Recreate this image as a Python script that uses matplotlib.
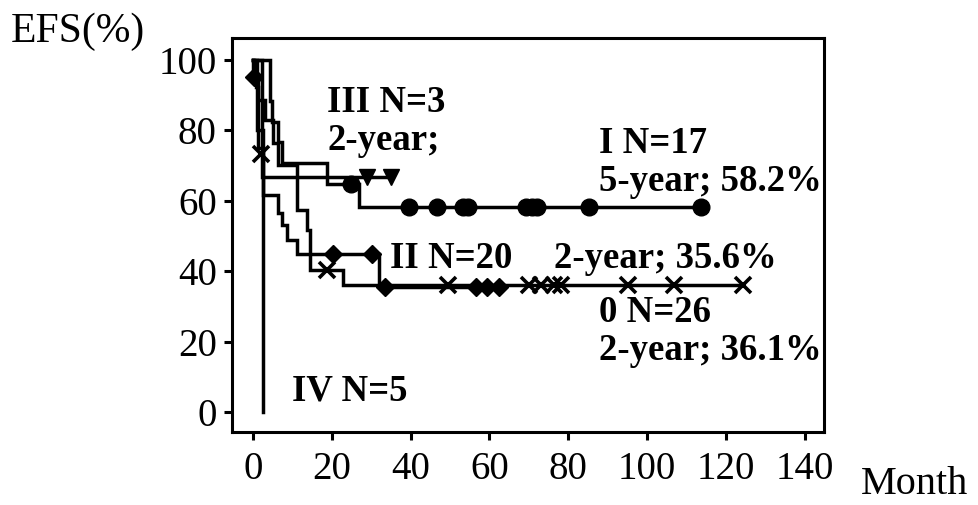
import numpy as np
import matplotlib.pyplot as plt

plt.rcParams['font.family'] = ['Liberation Serif', 'DejaVu Serif']

# step curves: event times (month) and EFS (%) after each step
t_I = [0, 4.4, 4.9, 6.4, 7.4, 18.8, 26.8, 113.6]
s_I = [100, 88.2, 82.4, 76.5, 70.6, 64.7, 58.2, 58.2]
cens_I_t = [24.8, 39.5, 46.8, 53.2, 54.7, 69.2, 70.9, 72.2, 85.2, 113.6]
cens_I_s = [64.7, 58.2, 58.2, 58.2, 58.2, 58.2, 58.2, 58.2, 58.2, 58.2]

t_0 = [0, 0.4, 0.8, 1.2, 3.1, 5.2, 6.4, 11.2, 13.8, 14.6, 22.9, 124.3]
s_0 = [100, 96.2, 92.3, 88.5, 82.8, 76.3, 70.0, 57.3, 51.6, 40.3, 36.1, 36.1]
cens_0_t = [2.0, 18.8, 49.5, 70.0, 73.0, 76.3, 78.3, 95.3, 106.8, 124.3]
cens_0_s = [73.1, 40.3, 36.1, 36.1, 36.1, 36.1, 36.1, 36.1, 36.1, 36.1]

t_II = [0, 0.1, 1.2, 2.6, 6.4, 7.4, 8.7, 11.3, 31.9, 62.4]
s_II = [100, 95, 75, 61.6, 56.4, 53.1, 48.8, 45.0, 35.6, 35.6]
cens_II_t = [0.2, 20.4, 30.3, 33.6, 56.5, 59.5, 62.4]
cens_II_s = [95, 45.0, 45.0, 35.6, 35.6, 35.6, 35.6]

t_III = [0, 2.4, 35.0]
s_III = [100, 66.7, 66.7]
cens_III_t = [29.0, 35.0]
cens_III_s = [66.7, 66.7]

t_IV = [0, 1.0, 2.6, 2.6]
s_IV = [100, 80, 80, 0]

xticks = [0, 20, 40, 60, 80, 100, 120, 140]
yticks = [0, 20, 40, 60, 80, 100]

fig = plt.figure(figsize=(9.79, 5.05), dpi=100)
ax = fig.add_axes([0.237, 0.145, 0.605, 0.779])

lw = 2.5
for t, s in [(t_I, s_I), (t_0, s_0), (t_II, s_II), (t_III, s_III), (t_IV, s_IV)]:
    ax.step(t, s, where='post', color='black', lw=lw, solid_joinstyle='miter')

ax.plot(cens_I_t, cens_I_s, 'o', color='black', ms=12, ls='none')
ax.plot(cens_0_t, cens_0_s, 'x', color='black', ms=11, mew=2.6, ls='none')
ax.plot(cens_II_t, cens_II_s, 'D', color='black', ms=9, ls='none')
ax.plot(cens_III_t, cens_III_s, 'v', color='black', ms=12, ls='none')

bold = dict(fontsize=26.5, fontweight='bold', ha='left', va='baseline')
ax.text(18.9, 85.1, 'III N=3', **bold)
ax.text(18.9, 74.3, '2-year;', **bold)
ax.text(87.7, 73.5, 'I N=17', **bold)
ax.text(87.7, 62.7, '5-year; 58.2%', **bold)
ax.text(34.9, 40.9, 'II N=20', **bold)
ax.text(76.3, 40.9, '2-year; 35.6%', **bold)
ax.text(87.7, 25.6, '0 N=26', **bold)
ax.text(87.7, 14.8, '2-year; 36.1%', **bold)
ax.text(10.0, 3.5, 'IV N=5', **bold)

ax.set_xlim(-5.3, 145)
ax.set_ylim(-5.5, 106)
ax.set_xticks(xticks)
ax.set_yticks(yticks)
ax.tick_params(direction='out', length=6, width=2.2, labelsize=28, pad=5)
ax.tick_params(axis='x', pad=8)
for sp in ax.spines.values():
    sp.set_linewidth(2.2)

fig.text(0.011, 0.937, 'EFS(%)', fontsize=30, ha='left', va='center')
fig.text(0.879, 0.004, 'Month', fontsize=29, ha='left', va='bottom')

fig.savefig('out.png', dpi=100)
